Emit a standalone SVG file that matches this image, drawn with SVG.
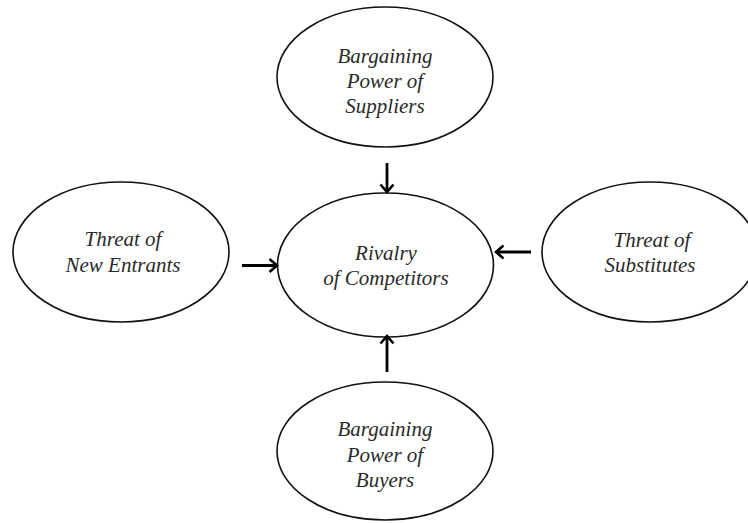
<svg xmlns="http://www.w3.org/2000/svg" width="748" height="523" viewBox="0 0 748 523">
<style>
.n ellipse{fill:#fff;stroke:#111;stroke-width:1.6}
.n text{font-family:"Liberation Serif",serif;font-style:italic;font-size:21px;fill:#2a2a2a;text-anchor:middle}
.c line{stroke:#000;stroke-width:2.8;marker-end:url(#ah)}
</style>
<defs>
<marker id="ah" markerWidth="12" markerHeight="16" refX="9" refY="8" orient="auto" markerUnits="userSpaceOnUse" viewBox="0 0 12 16">
<polyline points="1.5,1.5 9,8 1.5,14.5" fill="none" stroke="#000" stroke-width="2.6"/>
</marker>
</defs>
<rect width="748" height="523" fill="#fff"/>
<g id="suppliers" class="n">
<ellipse cx="385" cy="77" rx="108" ry="70"/>
<text x="385" y="63">Bargaining</text>
<text x="385" y="88">Power of</text>
<text x="385" y="113">Suppliers</text>
</g>
<g id="entrants" class="n">
<ellipse cx="121" cy="252" rx="108" ry="70"/>
<text x="123" y="246">Threat of</text>
<text x="123" y="272">New Entrants</text>
</g>
<g id="rivalry" class="n">
<ellipse cx="385.5" cy="265" rx="108" ry="72"/>
<text x="386" y="260">Rivalry</text>
<text x="386" y="285">of Competitors</text>
</g>
<g id="substitutes" class="n">
<ellipse cx="650" cy="252" rx="108" ry="70"/>
<text x="652" y="247">Threat of</text>
<text x="650" y="272">Substitutes</text>
</g>
<g id="buyers" class="n">
<ellipse cx="385" cy="451" rx="108" ry="69"/>
<text x="385" y="436">Bargaining</text>
<text x="385" y="462">Power of</text>
<text x="385" y="487">Buyers</text>
</g>
<g id="connectors" class="c">
<line x1="387" y1="163" x2="387" y2="192"/>
<line x1="242" y1="265.5" x2="277" y2="265.5"/>
<line x1="531" y1="252" x2="496" y2="252"/>
<line x1="387" y1="372" x2="387" y2="336"/>
</g>
</svg>
